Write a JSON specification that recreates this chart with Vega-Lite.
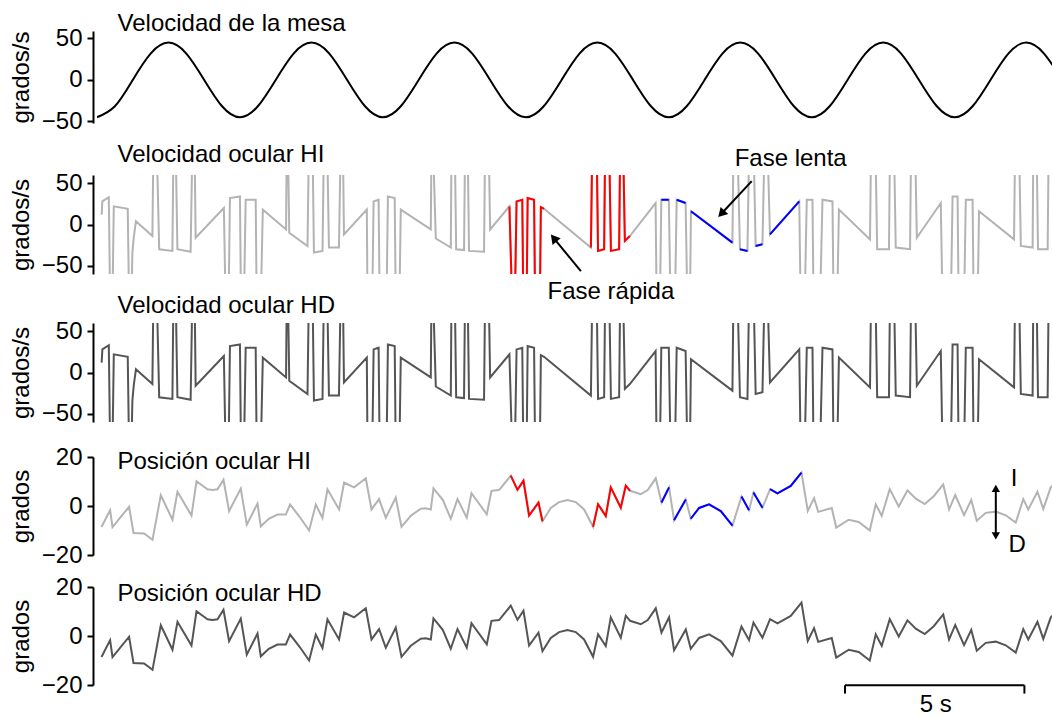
{
 "$schema": "https://vega.github.io/schema/vega-lite/v6.json",
 "background": "white",
 "padding": {"left": 9, "top": 12, "right": 0, "bottom": 0},
 "config": {
  "view": {"stroke": null},
  "font": "Liberation Sans",
  "axis": {"domainColor": "#000", "domainWidth": 2, "tickColor": "#000", "tickWidth": 2, "tickSize": 6, "labelFontSize": 24, "labelColor": "#000", "labelPadding": 5, "titleFontSize": 24, "titleFontWeight": "normal", "titleColor": "#000", "titlePadding": 8, "grid": false, "offset": 4, "labelFont": "Liberation Sans", "titleFont": "Liberation Sans"},
  "text": {"font": "Liberation Sans", "fontSize": 24, "color": "#000"}
 },
 "datasets": {
  "mesa": [
   {"t":0,"v":-45},{"t":0.5,"v":-31.8},{"t":1,"v":0},{"t":1.5,"v":31.8},{"t":2,"v":45},{"t":2.5,"v":31.8},{"t":3,"v":0},{"t":3.5,"v":-31.8},
   {"t":4,"v":-45},{"t":4.5,"v":-31.8},{"t":5,"v":0},{"t":5.5,"v":31.8},{"t":6,"v":45},{"t":6.5,"v":31.8},{"t":7,"v":0},{"t":7.5,"v":-31.8},
   {"t":8,"v":-45},{"t":8.5,"v":-31.8},{"t":9,"v":0},{"t":9.5,"v":31.8},{"t":10,"v":45},{"t":10.5,"v":31.8},{"t":11,"v":0},{"t":11.5,"v":-31.8},
   {"t":12,"v":-45},{"t":12.5,"v":-31.8},{"t":13,"v":0},{"t":13.5,"v":31.8},{"t":14,"v":45},{"t":14.5,"v":31.8},{"t":15,"v":0},{"t":15.5,"v":-31.8},
   {"t":16,"v":-45},{"t":16.5,"v":-31.8},{"t":17,"v":0},{"t":17.5,"v":31.8},{"t":18,"v":45},{"t":18.5,"v":31.8},{"t":19,"v":0},{"t":19.5,"v":-31.8},
   {"t":20,"v":-45},{"t":20.5,"v":-31.8},{"t":21,"v":0},{"t":21.5,"v":31.8},{"t":22,"v":45},{"t":22.5,"v":31.8},{"t":23,"v":0},{"t":23.5,"v":-31.8},
   {"t":24,"v":-45},{"t":24.5,"v":-31.8},{"t":25,"v":0},{"t":25.5,"v":31.8},{"t":26,"v":45},{"t":26.5,"v":31.8},{"t":27,"v":0}
  ],
  "vel": [
   {"t":0.13,"v":12},{"t":0.15,"v":28},{"t":0.33,"v":33},{"t":0.37,"v":-100},{"t":0.43,"v":-100},{"t":0.47,"v":22},{"t":0.86,"v":19},{"t":0.9,"v":-100},{"t":0.96,"v":-100},{"t":0.99,"v":-34},{"t":1.03,"v":-15},{"t":1.09,"v":4},{"t":1.55,"v":-14},{"t":1.58,"v":100},{"t":1.67,"v":100},{"t":1.74,"v":-30},{"t":2.11,"v":-32},{"t":2.14,"v":100},{"t":2.2,"v":100},{"t":2.25,"v":-30},{"t":2.62,"v":-33},{"t":2.67,"v":100},{"t":2.73,"v":100},{"t":2.76,"v":-16},{"t":3.55,"v":20},
   {"t":3.6,"v":-100},{"t":3.68,"v":-100},{"t":3.72,"v":32},{"t":4.0,"v":34},{"t":4.03,"v":-100},{"t":4.11,"v":-100},{"t":4.16,"v":30},{"t":4.44,"v":30},{"t":4.47,"v":-100},{"t":4.58,"v":-100},{"t":4.64,"v":18},{"t":5.29,"v":-6},{"t":5.31,"v":100},{"t":5.34,"v":100},{"t":5.38,"v":-10},{"t":5.89,"v":-26},{"t":5.93,"v":100},{"t":6.03,"v":100},{"t":6.07,"v":-34},{"t":6.31,"v":-32},{"t":6.35,"v":100},{"t":6.44,"v":100},{"t":6.49,"v":-28},{"t":6.77,"v":-28},{"t":6.82,"v":100},{"t":6.88,"v":100},{"t":6.91,"v":-12},{"t":7.55,"v":18},
   {"t":7.57,"v":-100},{"t":7.7,"v":-100},{"t":7.74,"v":28},{"t":7.88,"v":30},{"t":7.91,"v":-100},{"t":8.1,"v":-100},{"t":8.14,"v":34},{"t":8.33,"v":32},{"t":8.36,"v":-100},{"t":8.46,"v":-100},{"t":8.5,"v":18},{"t":9.34,"v":-6},{"t":9.36,"v":100},{"t":9.4,"v":100},{"t":9.48,"v":-17},{"t":9.9,"v":-28},{"t":9.92,"v":100},{"t":10.01,"v":100},{"t":10.05,"v":-30},{"t":10.27,"v":-31},{"t":10.3,"v":100},{"t":10.37,"v":100},{"t":10.41,"v":-32},{"t":10.83,"v":-33},{"t":10.86,"v":100},{"t":10.96,"v":100},{"t":11.0,"v":-6},
   {"t":11.54,"v":22,"h":"r1","f":"rápida"},{"t":11.62,"v":-100,"h":"r1","f":"rápida"},{"t":11.69,"v":-100,"h":"r1","f":"rápida"},{"t":11.74,"v":28,"h":"r1","f":"rápida"},{"t":11.9,"v":30,"h":"r1","f":"rápida"},{"t":11.93,"v":-100,"h":"r1","f":"rápida"},{"t":12.02,"v":-100,"h":"r1","f":"rápida"},{"t":12.05,"v":32,"h":"r1","f":"rápida"},{"t":12.23,"v":30,"h":"r1","f":"rápida"},{"t":12.26,"v":-100,"h":"r1","f":"rápida"},{"t":12.39,"v":-100,"h":"r1","f":"rápida"},{"t":12.42,"v":21,"h":"r1","f":"rápida"},{"t":12.51,"v":19,"h":"r1","f":"rápida"},
   {"t":13.82,"v":-28,"h":"r2","f":"rápida"},{"t":13.86,"v":100,"h":"r2","f":"rápida"},{"t":13.98,"v":100,"h":"r2","f":"rápida"},{"t":14.02,"v":-32,"h":"r2","f":"rápida"},{"t":14.19,"v":-30,"h":"r2","f":"rápida"},{"t":14.22,"v":100,"h":"r2","f":"rápida"},{"t":14.33,"v":100,"h":"r2","f":"rápida"},{"t":14.38,"v":-32,"h":"r2","f":"rápida"},{"t":14.61,"v":-30,"h":"r2","f":"rápida"},{"t":14.64,"v":100,"h":"r2","f":"rápida"},{"t":14.72,"v":100,"h":"r2","f":"rápida"},{"t":14.77,"v":-20,"h":"r2","f":"rápida"},{"t":14.91,"v":-14,"h":"r2","f":"rápida"},
   {"t":15.63,"v":26},
   {"t":15.66,"v":-100},{"t":15.75,"v":-100},{"t":15.79,"v":30,"h":"b1","f":"lenta"},{"t":16.0,"v":30,"h":"b1","f":"lenta"},{"t":16.05,"v":-100},{"t":16.17,"v":-100},{"t":16.22,"v":30,"h":"b2","f":"lenta"},{"t":16.47,"v":26,"h":"b2","f":"lenta"},{"t":16.52,"v":-100},{"t":16.59,"v":-100},{"t":16.62,"v":16,"h":"b3","f":"lenta"},{"t":17.78,"v":-22,"h":"b3","f":"lenta"},{"t":17.81,"v":100},{"t":17.92,"v":100},{"t":17.99,"v":-30,"h":"b4","f":"lenta"},{"t":18.2,"v":-32,"h":"b4","f":"lenta"},{"t":18.25,"v":100},{"t":18.37,"v":100},{"t":18.43,"v":-26,"h":"b5","f":"lenta"},{"t":18.62,"v":-24,"h":"b5","f":"lenta"},{"t":18.68,"v":100},{"t":18.76,"v":100},{"t":18.83,"v":-12,"h":"b6","f":"lenta"},{"t":19.65,"v":28,"h":"b6","f":"lenta"},
   {"t":19.69,"v":-100},{"t":19.8,"v":-100},{"t":19.86,"v":30},{"t":20.02,"v":30},{"t":20.05,"v":-100},{"t":20.23,"v":-100},{"t":20.3,"v":30},{"t":20.58,"v":28},{"t":20.61,"v":-100},{"t":20.71,"v":-100},{"t":20.76,"v":18},{"t":21.63,"v":-18},{"t":21.66,"v":100},{"t":21.78,"v":100},{"t":21.83,"v":-30},{"t":22.16,"v":-30},{"t":22.19,"v":100},{"t":22.3,"v":100},{"t":22.35,"v":-28},{"t":22.75,"v":-30},{"t":22.78,"v":100},{"t":22.89,"v":100},{"t":22.94,"v":-16},{"t":23.61,"v":26},
   {"t":23.66,"v":-100},{"t":23.89,"v":-100},{"t":23.94,"v":34},{"t":24.08,"v":34},{"t":24.11,"v":-100},{"t":24.26,"v":-100},{"t":24.31,"v":30},{"t":24.5,"v":30},{"t":24.53,"v":-100},{"t":24.64,"v":-100},{"t":24.68,"v":16},{"t":25.66,"v":-18},{"t":25.69,"v":100},{"t":25.8,"v":100},{"t":25.85,"v":-26},{"t":26.18,"v":-28},{"t":26.2,"v":100},{"t":26.29,"v":100},{"t":26.33,"v":-30},{"t":26.6,"v":-30},{"t":26.63,"v":100},{"t":26.8,"v":100}
  ],
  "pos": [
   {"t":0.126,"v":-8.6},{"t":0.367,"v":-1.7},{"t":0.434,"v":-8.6},{"t":0.898,"v":-0.3},{"t":1.021,"v":-11.0},{"t":1.318,"v":-11.2},{"t":1.553,"v":-13.8},{"t":1.785,"v":4.4},{"t":2.112,"v":-5.6},{"t":2.252,"v":5.8},{"t":2.644,"v":-3.9},{"t":2.784,"v":10.1},{"t":3.092,"v":6.8},{"t":3.232,"v":6.5},{"t":3.372,"v":6.8},{"t":3.539,"v":10.7},
   {"t":3.696,"v":-2.1},{"t":4.023,"v":7.1},{"t":4.191,"v":-7.6},{"t":4.491,"v":1.0},{"t":4.583,"v":-8.3},{"t":4.807,"v":-5.2},{"t":5.05,"v":-3.5},{"t":5.283,"v":-3.5},{"t":5.403,"v":0.6},{"t":5.674,"v":-4.5},{"t":5.935,"v":-10.0},{"t":6.122,"v":0.6},{"t":6.309,"v":-4.9},{"t":6.449,"v":6.8},{"t":6.774,"v":-1.4},{"t":6.914,"v":9.6},{"t":7.194,"v":7.6},{"t":7.521,"v":11.3},
   {"t":7.681,"v":-1.4},{"t":7.893,"v":2.8},{"t":8.081,"v":-4.8},{"t":8.36,"v":3.4},{"t":8.52,"v":-8.5},{"t":8.78,"v":-4.0},{"t":9.06,"v":-1.1},{"t":9.2,"v":-0.9},{"t":9.34,"v":-1.4},{"t":9.415,"v":7.2},{"t":9.675,"v":2.5},{"t":9.899,"v":-5.2},{"t":10.087,"v":2.8},{"t":10.347,"v":-4.8},{"t":10.478,"v":5.2},{"t":10.907,"v":-3.4},{"t":11.038,"v":6.2},{"t":11.251,"v":6.5},
   {"t":11.578,"v":12.4,"h":"r1","f":"rápida"},{"t":11.765,"v":6.6,"h":"r1","f":"rápida"},{"t":11.933,"v":10.3,"h":"r1","f":"rápida"},{"t":12.09,"v":-3.9,"h":"r1","f":"rápida"},{"t":12.353,"v":1.4,"h":"r1","f":"rápida"},{"t":12.465,"v":-6.2,"h":"r1","f":"rápida"},
   {"t":12.697,"v":-0.8},{"t":12.93,"v":1.6},{"t":13.164,"v":2.4},{"t":13.397,"v":1.6},{"t":13.629,"v":-1.4},
   {"t":13.881,"v":-8.5,"h":"r2","f":"rápida"},{"t":14.021,"v":0.7,"h":"r2","f":"rápida"},{"t":14.236,"v":-4.1,"h":"r2","f":"rápida"},{"t":14.376,"v":7.6,"h":"r2","f":"rápida"},{"t":14.656,"v":-0.7,"h":"r2","f":"rápida"},{"t":14.796,"v":8.3,"h":"r2","f":"rápida"},{"t":14.916,"v":6.2,"h":"r2","f":"rápida"},
   {"t":15.215,"v":4.8},{"t":15.411,"v":6.5},{"t":15.635,"v":11.3},
   {"t":15.795,"v":1.4,"h":"b1","f":"lenta"},{"t":16.007,"v":7.6,"h":"b1","f":"lenta"},
   {"t":16.147,"v":-5.8,"h":"b2","f":"lenta"},{"t":16.475,"v":2.7,"h":"b2","f":"lenta"},
   {"t":16.614,"v":-5.2,"h":"b3","f":"lenta"},{"t":16.847,"v":-0.8,"h":"b3","f":"lenta"},{"t":17.127,"v":0.7,"h":"b3","f":"lenta"},{"t":17.454,"v":-2.1,"h":"b3","f":"lenta"},{"t":17.781,"v":-8.0,"h":"b3","f":"lenta"},
   {"t":18.033,"v":3.9,"h":"b4","f":"lenta"},{"t":18.245,"v":-1.7,"h":"b4","f":"lenta"},
   {"t":18.369,"v":5.5,"h":"b5","f":"lenta"},{"t":18.62,"v":-0.7,"h":"b5","f":"lenta"},
   {"t":18.833,"v":6.9,"h":"b6","f":"lenta"},{"t":19.04,"v":5.2,"h":"b6","f":"lenta"},{"t":19.412,"v":8.2,"h":"b6","f":"lenta"},{"t":19.712,"v":13.6,"h":"b6","f":"lenta"},
   {"t":19.888,"v":-2.0},{"t":20.064,"v":3.2},{"t":20.181,"v":-2.4},{"t":20.559,"v":-0.8},{"t":20.685,"v":-8.8},{"t":21.035,"v":-5.6},{"t":21.315,"v":-6.5},{"t":21.623,"v":-10.0},{"t":21.79,"v":0.7},{"t":21.958,"v":-4.0},{"t":22.182,"v":6.9},{"t":22.434,"v":-0.2},{"t":22.678,"v":6.4},{"t":22.91,"v":3.0},{"t":23.162,"v":0.8},{"t":23.413,"v":4.0},{"t":23.679,"v":8.8},
   {"t":23.842,"v":-1.4},{"t":24.015,"v":4.5},{"t":24.261,"v":-3.7},{"t":24.463,"v":2.5},{"t":24.617,"v":-6.0},{"t":24.869,"v":-2.8},{"t":25.149,"v":-2.3},{"t":25.428,"v":-3.8},{"t":25.708,"v":-6.8},{"t":25.918,"v":2.8},{"t":26.058,"v":-1.4},{"t":26.315,"v":5.8},{"t":26.478,"v":-1.2},{"t":26.687,"v":7.6},{"t":26.78,"v":9.0}
  ]
 },
 "spacing": 15,
 "bounds": "flush",
 "resolve": {"scale": {"x": "independent", "y": "independent", "color": "independent"}},
 "vconcat": [
  {
   "width": 956, "height": 92,
   "encoding": {
    "x": {"field": "t", "type": "quantitative", "scale": {"domain": [0, 26.75], "nice": false, "zero": false}, "axis": null},
    "y": {"field": "v", "type": "quantitative", "scale": {"domain": [-52, 59], "nice": false, "zero": false}, "axis": {"values": [-50, 0, 50], "title": "grados/s"}}
   },
   "layer": [
    {"data": {"name": "mesa"}, "mark": {"type": "line", "interpolate": "natural", "color": "#000000", "strokeWidth": 2, "clip": true}},
    {"data": {"values": [{"t": 0.574, "v": 58.5, "s": "Velocidad de la mesa"}]}, "mark": {"type": "text", "align": "left", "baseline": "alphabetic"}, "encoding": {"text": {"field": "s"}}}
   ]
  },
  {"width": 956, "height": 22, "data": {"values": [{}]}, "mark": {"type": "rule", "opacity": 0}, "encoding": {}},
  {
   "width": 956, "height": 99,
   "encoding": {
    "x": {"field": "t", "type": "quantitative", "scale": {"domain": [0, 26.75], "nice": false, "zero": false}, "axis": null},
    "y": {"field": "v", "type": "quantitative", "scale": {"domain": [-60, 60], "nice": false, "zero": false}, "axis": {"values": [-50, 0, 50], "title": "grados/s"}}
   },
   "layer": [
    {"data": {"name": "vel"}, "mark": {"type": "line", "color": "#b3b3b3", "strokeWidth": 2, "clip": true}},
    {"data": {"name": "vel"}, "transform": [{"filter": "isValid(datum.h)"}], "mark": {"type": "line", "strokeWidth": 2, "clip": true},
     "encoding": {"color": {"field": "f", "type": "nominal", "scale": {"domain": ["rápida", "lenta"], "range": ["#ff0000", "#0000ff"]}, "legend": null}, "detail": {"field": "h"}}},
    {"data": {"values": [{"t": 0.574, "v": 75.5, "s": "Velocidad ocular HI"}]}, "mark": {"type": "text", "align": "left", "baseline": "alphabetic"}, "encoding": {"text": {"field": "s"}}},
    {"data": {"values": [{"t": 19.41, "v": 70.7, "s": "Fase lenta"}, {"t": 14.38, "v": -89.7, "s": "Fase rápida"}]}, "mark": {"type": "text", "align": "center", "baseline": "alphabetic"}, "encoding": {"text": {"field": "s"}}},
    {"data": {"values": [{"t": 18.32, "v": 52.5, "t2": 17.47, "v2": 13}, {"t": 13.54, "v": -56.6, "t2": 12.78, "v2": -16.5}]}, "mark": {"type": "rule", "color": "#000000", "strokeWidth": 2}, "encoding": {"x2": {"field": "t2"}, "y2": {"field": "v2"}}},
    {"data": {"values": [{"t": 17.47, "v": 13, "a": 223}, {"t": 12.78, "v": -16.5, "a": 320.6}]}, "mark": {"type": "point", "shape": "triangle-up", "filled": true, "color": "#000000", "size": 110, "opacity": 1, "strokeWidth": 0}, "encoding": {"angle": {"field": "a", "type": "quantitative", "scale": null}}}
   ]
  },
  {"width": 956, "height": 19, "data": {"values": [{}]}, "mark": {"type": "rule", "opacity": 0}, "encoding": {}},
  {
   "width": 956, "height": 99,
   "encoding": {
    "x": {"field": "t", "type": "quantitative", "scale": {"domain": [0, 26.75], "nice": false, "zero": false}, "axis": null},
    "y": {"field": "v", "type": "quantitative", "scale": {"domain": [-60, 60], "nice": false, "zero": false}, "axis": {"values": [-50, 0, 50], "title": "grados/s"}}
   },
   "layer": [
    {"data": {"name": "vel"}, "mark": {"type": "line", "color": "#555555", "strokeWidth": 2, "clip": true}},
    {"data": {"values": [{"t": 0.574, "v": 71.9, "s": "Velocidad ocular HD"}]}, "mark": {"type": "text", "align": "left", "baseline": "alphabetic"}, "encoding": {"text": {"field": "s"}}}
   ]
  },
  {"width": 956, "height": 5, "data": {"values": [{}]}, "mark": {"type": "rule", "opacity": 0}, "encoding": {}},
  {
   "width": 956, "height": 98,
   "encoding": {
    "x": {"field": "t", "type": "quantitative", "scale": {"domain": [0, 26.75], "nice": false, "zero": false}, "axis": null},
    "y": {"field": "v", "type": "quantitative", "scale": {"domain": [-20, 20], "nice": false, "zero": false}, "axis": {"values": [-20, 0, 20], "title": "grados"}}
   },
   "layer": [
    {"data": {"name": "pos"}, "mark": {"type": "line", "color": "#b3b3b3", "strokeWidth": 2, "clip": true}},
    {"data": {"name": "pos"}, "transform": [{"filter": "isValid(datum.h)"}], "mark": {"type": "line", "strokeWidth": 2, "clip": true},
     "encoding": {"color": {"field": "f", "type": "nominal", "scale": {"domain": ["rápida", "lenta"], "range": ["#ff0000", "#0000ff"]}, "legend": null}, "detail": {"field": "h"}}},
    {"data": {"values": [{"t": 0.574, "v": 15.1, "s": "Posición ocular HI"}]}, "mark": {"type": "text", "align": "left", "baseline": "alphabetic"}, "encoding": {"text": {"field": "s"}}},
    {"data": {"values": [{"t": 25.15, "v": 7.2, "t2": 25.15, "v2": -12.2}]}, "mark": {"type": "rule", "color": "#000000", "strokeWidth": 2}, "encoding": {"x2": {"field": "t2"}, "y2": {"field": "v2"}}},
    {"data": {"values": [{"t": 25.15, "v": 7.2, "a": 0}, {"t": 25.15, "v": -12.2, "a": 180}]}, "mark": {"type": "point", "shape": "triangle-up", "filled": true, "color": "#000000", "size": 70, "opacity": 1, "strokeWidth": 0}, "encoding": {"angle": {"field": "a", "type": "quantitative", "scale": null}}},
    {"data": {"values": [{"t": 25.66, "v": 8.2, "s": "I"}, {"t": 25.75, "v": -18.7, "s": "D"}]}, "mark": {"type": "text", "align": "center", "baseline": "alphabetic"}, "encoding": {"text": {"field": "s"}}}
   ]
  },
  {"width": 956, "height": 2, "data": {"values": [{}]}, "mark": {"type": "rule", "opacity": 0}, "encoding": {}},
  {
   "width": 956, "height": 98,
   "encoding": {
    "x": {"field": "t", "type": "quantitative", "scale": {"domain": [0, 26.75], "nice": false, "zero": false}, "axis": null},
    "y": {"field": "v", "type": "quantitative", "scale": {"domain": [-20, 20], "nice": false, "zero": false}, "axis": {"values": [-20, 0, 20], "title": "grados"}}
   },
   "layer": [
    {"data": {"name": "pos"}, "mark": {"type": "line", "color": "#555555", "strokeWidth": 2, "clip": true}},
    {"data": {"values": [{"t": 0.574, "v": 14.2, "s": "Posición ocular HD"}]}, "mark": {"type": "text", "align": "left", "baseline": "alphabetic"}, "encoding": {"text": {"field": "s"}}},
    {"data": {"values": [{"t": 20.93, "v": -20.1, "t2": 25.95, "v2": -20.1}, {"t": 20.93, "v": -20.1, "t2": 20.93, "v2": -23.5}, {"t": 25.95, "v": -20.1, "t2": 25.95, "v2": -23.5}]}, "mark": {"type": "rule", "color": "#000000", "strokeWidth": 2}, "encoding": {"x2": {"field": "t2"}, "y2": {"field": "v2"}}},
    {"data": {"values": [{"t": 23.47, "v": -31.2, "s": "5 s"}]}, "mark": {"type": "text", "align": "center", "baseline": "alphabetic"}, "encoding": {"text": {"field": "s"}}}
   ]
  }
 ]
}
